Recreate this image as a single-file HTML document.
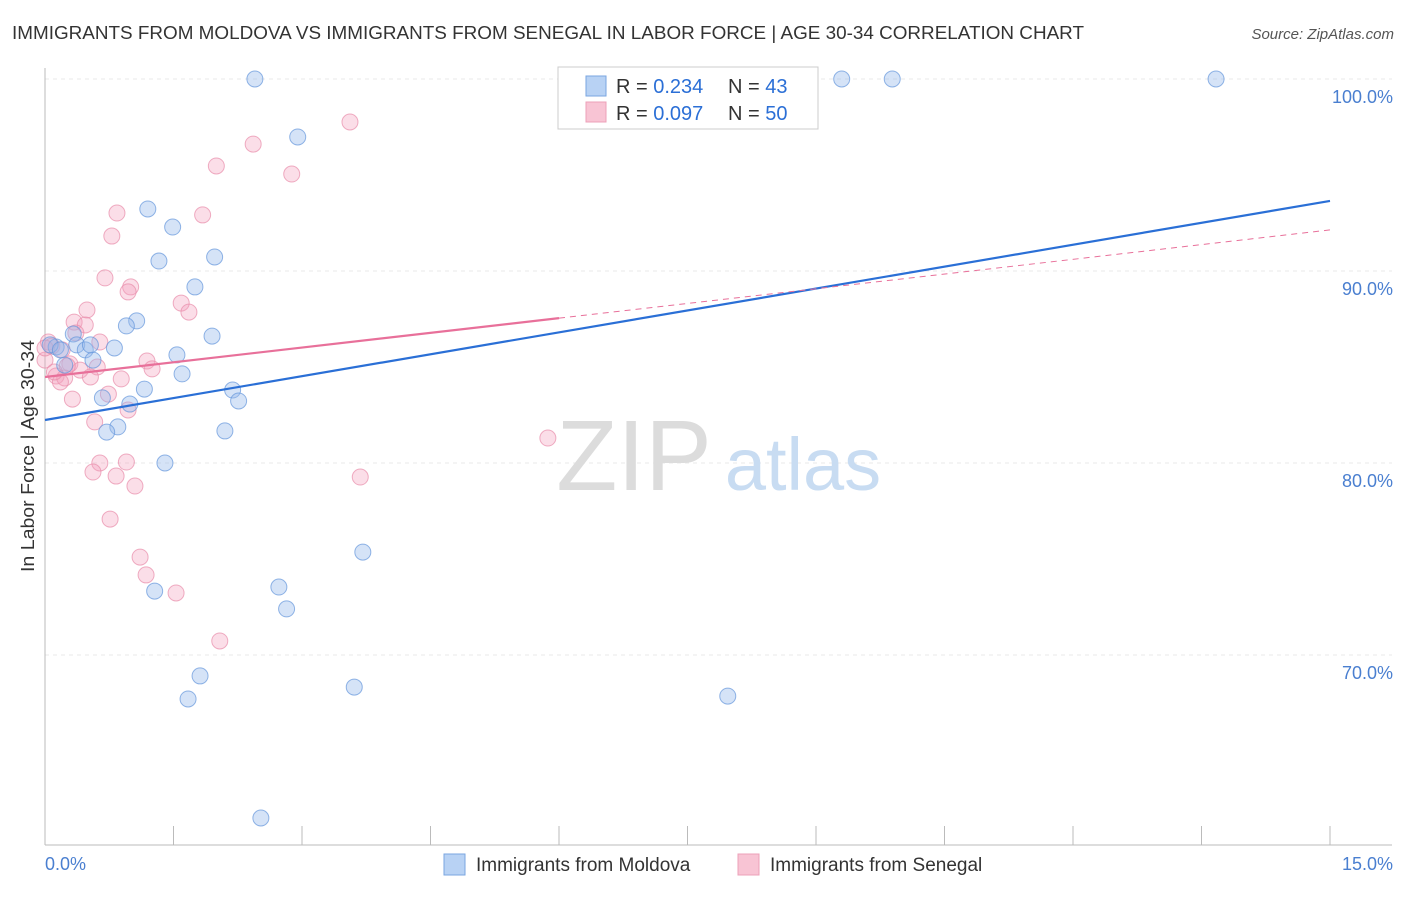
<!DOCTYPE html>
<html><head><meta charset="utf-8">
<style>
body{margin:0;background:#fff;font-family:"Liberation Sans",sans-serif;}
svg text{font-family:"Liberation Sans",sans-serif;}
</style></head>
<body>
<svg id="chart" width="1406" height="892" viewBox="0 0 1406 892" xmlns="http://www.w3.org/2000/svg">
<text x="12" y="39" font-size="18" fill="#333" textLength="1072" lengthAdjust="spacingAndGlyphs">IMMIGRANTS FROM MOLDOVA VS IMMIGRANTS FROM SENEGAL IN LABOR FORCE | AGE 30-34 CORRELATION CHART</text>
<text x="1394" y="39" font-size="15" fill="#555" text-anchor="end" font-style="italic">Source: ZipAtlas.com</text>
<g id="grid"></g>
<g>
<text x="634" y="490" font-size="100" fill="#dcdcdc" text-anchor="middle" font-family="Liberation Serif,serif">ZIP</text>
<text x="803" y="490" font-size="74" fill="#c8dcf2" text-anchor="middle">atlas</text>
</g>
<g id="axes"></g>
<g id="pts"></g>
<g id="lines"></g>
<text transform="translate(34,456) rotate(-90)" font-size="18" fill="#333" text-anchor="middle" textLength="232" lengthAdjust="spacingAndGlyphs">In Labor Force | Age 30-34</text>
<g>
<rect x="558" y="67" width="260" height="62" fill="#fff" stroke="#ccc"/>
<rect x="586" y="76" width="20" height="20" fill="#b8d2f4" stroke="#7aa6e0"/>
<rect x="586" y="102" width="20" height="20" fill="#f8c4d4" stroke="#eda0b8"/>
<text x="616" y="93" font-size="20" fill="#333">R = <tspan fill="#2b6fd6">0.234</tspan><tspan x="728">N = </tspan><tspan fill="#2b6fd6">43</tspan></text>
<text x="616" y="120" font-size="20" fill="#333">R = <tspan fill="#2b6fd6">0.097</tspan><tspan x="728">N = </tspan><tspan fill="#2b6fd6">50</tspan></text>
</g>
<g>
<rect x="444" y="854" width="21" height="21" fill="#b8d2f4" stroke="#7aa6e0"/>
<text x="476" y="871" font-size="19" fill="#333">Immigrants from Moldova</text>
<rect x="738" y="854" width="21" height="21" fill="#f8c4d4" stroke="#eda0b8"/>
<text x="770" y="871" font-size="19" fill="#333">Immigrants from Senegal</text>
</g>
</svg>
<script>
const moldovaX=[2.45,9.30,9.89,13.67,2.95,1.20,1.49,1.33,1.98,1.75,1.07,0.95,1.95,0.33,0.37,0.13,0.06,0.18,0.47,0.81,0.56,1.54,0.23,1.60,1.16,2.19,2.26,0.67,0.99,0.85,0.72,2.10,1.40,3.71,2.73,1.28,2.82,1.81,1.67,3.61,7.97,2.52,0.53];
const moldovaY=[100,100,100,100,96.98,93.23,92.29,90.52,90.73,89.17,87.40,87.14,86.61,86.72,86.15,86.04,86.15,85.89,85.89,85.99,85.36,85.63,85.10,84.64,83.85,83.80,83.23,83.39,83.07,81.88,81.61,81.67,80.00,75.36,73.54,73.33,72.40,68.91,67.71,68.33,67.86,61.51,86.15];
const senegalX=[3.56,2.43,2.00,2.88,0.84,1.84,0.78,0.70,1.00,0.97,1.59,1.68,0.49,0.34,0.47,0.36,0.04,0.08,0.64,0.20,0.00,0.29,0.41,0.61,1.19,1.25,0.13,0.23,0.89,0.18,0.74,0.32,0.97,0.58,5.87,0.64,0.95,0.56,0.83,1.05,3.68,0.76,1.11,1.18,1.53,2.04,0.26,0.11,0.53,0.0];
const senegalY=[97.76,96.61,95.47,95.05,93.02,92.92,91.82,89.64,89.17,88.91,88.33,87.86,87.97,87.34,87.19,86.77,86.30,86.09,86.30,85.89,85.36,85.16,84.84,85.00,85.31,84.90,84.53,84.43,84.38,84.22,83.59,83.33,82.76,82.14,81.30,80.00,80.05,79.53,79.32,78.80,79.27,77.08,75.10,74.17,73.23,70.73,85.05,84.74,84.48,85.99];
const yTicks=[100,90,80,70];
const yTickLabels=["100.0%","90.0%","80.0%","70.0%"];
const xTicks=[0,1.5,3,4.5,6,7.5,9,10.5,12,13.5,15];
const moldovaTrend=[82.24,93.65];
const senegalTrend=[84.48,92.14];
const senegalSolidEnd=6.0;

const NS="http://www.w3.org/2000/svg";
const X=v=>45+v*(1285/15);
const Y=v=>79+(100-v)*19.2;
function mk(tag,attrs,parent){const e=document.createElementNS(NS,tag);for(const k in attrs)e.setAttribute(k,attrs[k]);parent.appendChild(e);return e;}
const grid=document.getElementById('grid'),axes=document.getElementById('axes'),pts=document.getElementById('pts'),lines=document.getElementById('lines');
yTicks.forEach((t,i)=>{
 const g=mk('line',{x1:45,x2:1392,y1:Y(t),y2:Y(t),stroke:'#e8e8e8','stroke-dasharray':'4,4'},grid);
 
 
 const l=mk('text',{x:1393,y:Y(t)+24,'font-size':18,fill:'#4a7fd0','text-anchor':'end'},axes);
 l.textContent=yTickLabels[i];
 
 
});
const ax=mk('line',{x1:45,x2:45,y1:68,y2:845,stroke:'#bbb'},axes);


const bx=mk('line',{x1:45,x2:1392,y1:845,y2:845,stroke:'#bbb'},axes);


xTicks.forEach(t=>{
 const k=mk('line',{x1:X(t),x2:X(t),y1:826,y2:845,stroke:'#bbb'},axes);
 
 
});
const xl0=mk('text',{x:45,y:870,'font-size':18,fill:'#4a7fd0'},axes);xl0.textContent='0.0%';


const xl1=mk('text',{x:1393,y:870,'font-size':18,fill:'#4a7fd0','text-anchor':'end'},axes);xl1.textContent='15.0%';



senegalX.forEach((x,i)=>{
 const c=mk('circle',{cx:X(x),cy:Y(senegalY[i]),r:8,fill:'rgba(244,160,188,0.35)',stroke:'rgba(232,140,170,0.7)','stroke-width':1},pts);
 
 
});
moldovaX.forEach((x,i)=>{
 const c=mk('circle',{cx:X(x),cy:Y(moldovaY[i]),r:8,fill:'rgba(150,186,236,0.4)',stroke:'rgba(100,150,220,0.7)','stroke-width':1},pts);
 
 
});
const ml=mk('line',{x1:X(0),y1:Y(moldovaTrend[0]),x2:X(15),y2:Y(moldovaTrend[1]),stroke:'#2a6fd6','stroke-width':2.2},lines);


const sy=v=>senegalTrend[0]+(senegalTrend[1]-senegalTrend[0])*v/15;
const sl=mk('line',{x1:X(0),y1:Y(sy(0)),x2:X(senegalSolidEnd),y2:Y(sy(senegalSolidEnd)),stroke:'#e8709a','stroke-width':2.2},lines);


const sd=mk('line',{x1:X(senegalSolidEnd),y1:Y(sy(senegalSolidEnd)),x2:X(15),y2:Y(sy(15)),stroke:'#e8709a','stroke-width':1,'stroke-dasharray':'6,5'},lines);


</script>
</body></html>
